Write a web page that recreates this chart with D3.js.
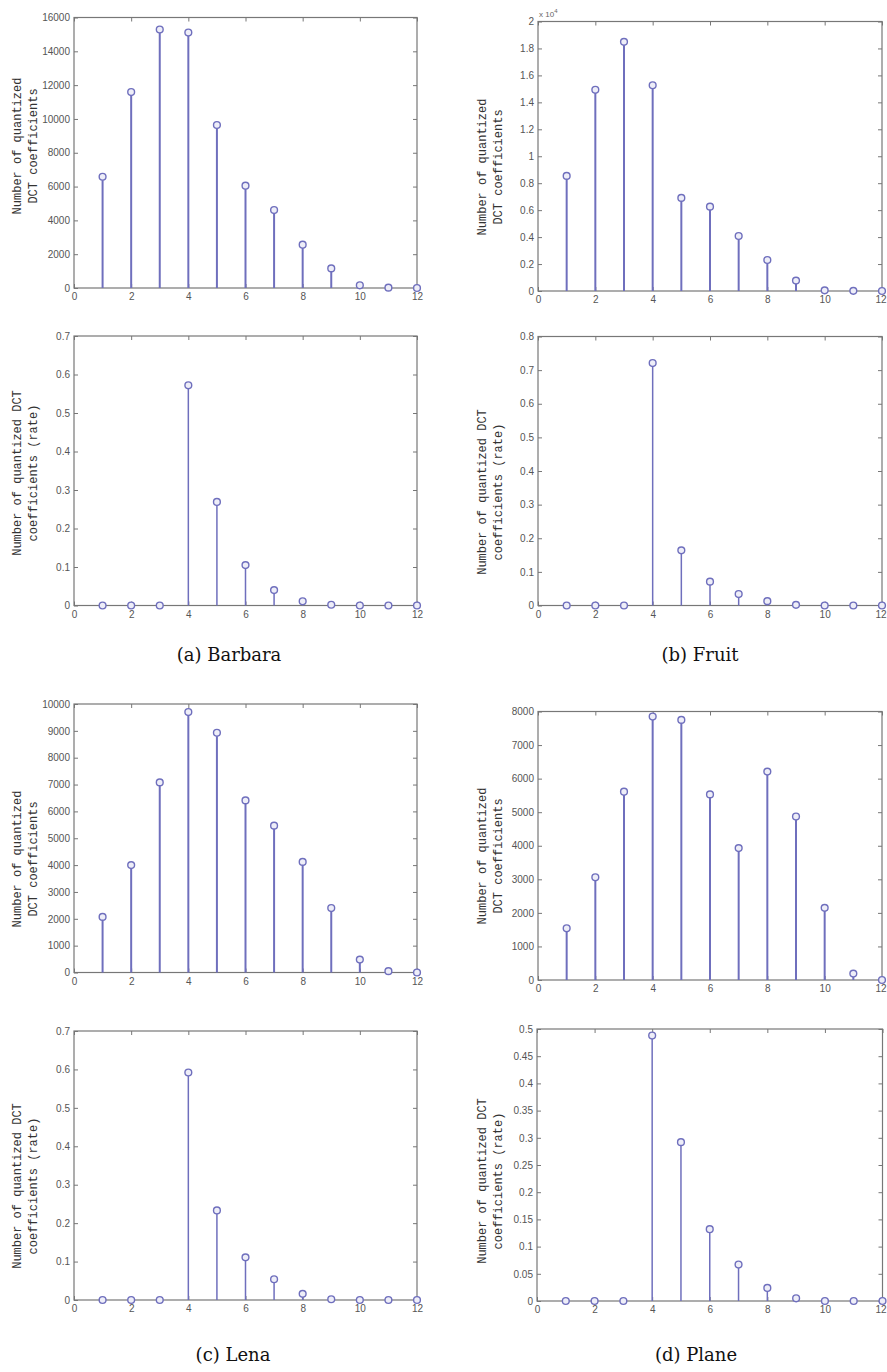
<!DOCTYPE html>
<meta charset="utf-8">
<script src="https://d3js.org/d3.v7.min.js"></script>
<style>
  body { margin: 0; background: #fff; }
  .tick text { font-family: "Liberation Sans", Arial, sans-serif; font-size: 10px; fill: #555; }
  .tick line { stroke: #777; }
</style>
<div id="my_dataviz"></div>
<script>

// quantization bins on the x axis
var bins = [1, 2, 3, 4, 5, 6, 7, 8, 9, 10, 11, 12];
var xTicks = [0, 2, 4, 6, 8, 10, 12];

// number of quantized DCT coefficients per bin
var barbaraCount = [6580, 11590, 15290, 15110, 9640, 6050, 4610, 2560, 1160, 160, 20, 0];
var fruitCount   = [8540, 14930, 18490, 15270, 6910, 6260, 4080, 2300, 770, 50, 10, 0];
var lenaCount    = [2070, 4000, 7080, 9700, 8930, 6410, 5470, 4120, 2400, 480, 50, 0];
var planeCount   = [1540, 3060, 5610, 7850, 7750, 5530, 3930, 6210, 4870, 2150, 190, 0];

// same thing as a rate
var barbaraRate = [0, 0, 0, 0.572, 0.269, 0.105, 0.040, 0.011, 0.002, 0, 0, 0];
var fruitRate   = [0, 0, 0, 0.721, 0.164, 0.071, 0.034, 0.013, 0.002, 0, 0, 0];
var lenaRate    = [0, 0, 0, 0.592, 0.233, 0.111, 0.054, 0.016, 0.002, 0, 0, 0];
var planeRate   = [0, 0, 0, 0.488, 0.292, 0.132, 0.067, 0.024, 0.005, 0, 0, 0];

// y tick labels
var barbaraCountTicks = [0, 2000, 4000, 6000, 8000, 10000, 12000, 14000, 16000];
var fruitCountTicks   = [0, 2000, 4000, 6000, 8000, 10000, 12000, 14000, 16000, 18000, 20000];
var lenaCountTicks    = [0, 1000, 2000, 3000, 4000, 5000, 6000, 7000, 8000, 9000, 10000];
var planeCountTicks   = [0, 1000, 2000, 3000, 4000, 5000, 6000, 7000, 8000];
var rateTicks07 = [0, 0.1, 0.2, 0.3, 0.4, 0.5, 0.6, 0.7];
var rateTicks08 = [0, 0.1, 0.2, 0.3, 0.4, 0.5, 0.6, 0.7, 0.8];
var rateTicks05 = [0, 0.05, 0.1, 0.15, 0.2, 0.25, 0.3, 0.35, 0.4, 0.45, 0.5];

var countLabel = ["Number of quantized", "DCT coefficients"];
var rateLabel  = ["Number of quantized DCT", "coefficients (rate)"];

var captions = ["(a) Barbara", "(b) Fruit", "(c) Lena", "(d) Plane"];

var stemColor = "#6f6fbd";

// panel layout (pixels)
var panels = [
  {l: 74,  r: 417, t: 17.5, b: 288,   vals: barbaraCount, ticks: barbaraCountTicks, lab: countLabel, lx: 21,  ly: 146,  sw: 2},
  {l: 538, r: 882, t: 21.5, b: 291,   vals: fruitCount,   ticks: fruitCountTicks,   lab: countLabel, lx: 486, ly: 167,  sw: 2, scale: 1e4},
  {l: 74,  r: 417, t: 336,  b: 605.5, vals: barbaraRate,  ticks: rateTicks07,       lab: rateLabel,  lx: 21,  ly: 473,  sw: 1.5},
  {l: 538, r: 882, t: 336.5,b: 605.5, vals: fruitRate,    ticks: rateTicks08,       lab: rateLabel,  lx: 486, ly: 492,  sw: 1.5},
  {l: 74,  r: 417, t: 704,  b: 972.5, vals: lenaCount,    ticks: lenaCountTicks,    lab: countLabel, lx: 21,  ly: 859,  sw: 2},
  {l: 538, r: 882, t: 711.5,b: 980,   vals: planeCount,   ticks: planeCountTicks,   lab: countLabel, lx: 486, ly: 856,  sw: 2},
  {l: 74,  r: 417, t: 1031, b: 1300,  vals: lenaRate,     ticks: rateTicks07,       lab: rateLabel,  lx: 21,  ly: 1186, sw: 1.5},
  {l: 537, r: 882.5, t: 1029, b: 1301, vals: planeRate,   ticks: rateTicks05,       lab: rateLabel,  lx: 486, ly: 1181, sw: 1.5}
];
var captionPos = [[229, 661], [700, 661], [233, 1361], [696, 1361]];

var svg = d3.select("#my_dataviz")
  .append("svg")
    .attr("width", 887)
    .attr("height", 1372);

function fmt(k) {
  return function(d) { return String(+(d / k).toFixed(4)); };
}

panels.forEach(function(p) {
  var k = p.scale || 1;
  var x = d3.scaleLinear().domain([0, 12]).range([p.l, p.r]);
  var y = d3.scaleLinear().domain([0, d3.max(p.ticks)]).range([p.b, p.t]);
  var g = svg.append("g");

  // MATLAB style box with inward ticks on all sides
  var xb = g.append("g").attr("transform", "translate(0," + p.b + ")")
    .call(d3.axisBottom(x).tickValues(xTicks).tickSize(-4).tickSizeOuter(0).tickPadding(5));
  g.append("g").attr("transform", "translate(0," + p.t + ")")
    .call(d3.axisTop(x).tickValues(xTicks).tickSize(-4).tickSizeOuter(0).tickFormat(""));
  g.append("g").attr("transform", "translate(" + p.l + ",0)")
    .call(d3.axisLeft(y).tickValues(p.ticks).tickSize(-4).tickSizeOuter(0).tickPadding(4).tickFormat(fmt(k)));
  g.append("g").attr("transform", "translate(" + p.r + ",0)")
    .call(d3.axisRight(y).tickValues(p.ticks).tickSize(-4).tickSizeOuter(0).tickFormat(""));
  g.selectAll(".domain").remove();

  // last x label sits at the page edge, keep it inside
  if (p.r > 880) {
    xb.selectAll(".tick text").filter(function(d) { return d === 12; })
      .attr("text-anchor", "end").attr("x", 886 - p.r);
  }

  g.append("rect")
    .attr("x", p.l).attr("y", p.t)
    .attr("width", p.r - p.l).attr("height", p.b - p.t)
    .attr("fill", "none").attr("stroke", "#777").attr("stroke-width", 1.2);

  if (k !== 1) {
    var m = g.append("text")
      .attr("x", p.l + 1).attr("y", p.t - 5)
      .style("font-family", "Liberation Sans, Arial, sans-serif")
      .style("font-size", "8px").style("fill", "#666");
    m.append("tspan").text("x 10");
    m.append("tspan").attr("dy", -4).style("font-size", "6px").text(String(Math.log10(k)));
  }

  // stems
  g.selectAll("line.stem")
    .data(p.vals)
    .enter().append("line")
      .attr("class", "stem")
      .attr("x1", function(d, i) { return x(bins[i]); })
      .attr("x2", function(d, i) { return x(bins[i]); })
      .attr("y1", y(0))
      .attr("y2", function(d) { return y(d); })
      .attr("stroke", stemColor)
      .attr("stroke-width", p.sw);

  g.selectAll("circle.mark")
    .data(p.vals)
    .enter().append("circle")
      .attr("class", "mark")
      .attr("cx", function(d, i) { return x(bins[i]); })
      .attr("cy", function(d) { return y(d); })
      .attr("r", 3.4)
      .attr("fill", "#eeeef8")
      .attr("stroke", stemColor)
      .attr("stroke-width", 1.4);

  // y label, two lines
  var lab = g.append("text")
    .attr("transform", "translate(" + p.lx + "," + p.ly + ") rotate(-90)")
    .attr("text-anchor", "middle")
    .style("font-family", "Liberation Mono, monospace")
    .style("font-size", "12px")
    .style("fill", "#333");
  lab.append("tspan").attr("x", 0).attr("y", 0).text(p.lab[0]);
  lab.append("tspan").attr("x", 0).attr("y", 16).text(p.lab[1]);
});

svg.selectAll("text.caption")
  .data(captions)
  .enter().append("text")
    .attr("class", "caption")
    .attr("x", function(d, i) { return captionPos[i][0]; })
    .attr("y", function(d, i) { return captionPos[i][1]; })
    .attr("text-anchor", "middle")
    .style("font-family", "DejaVu Serif, serif")
    .style("font-size", "18px")
    .style("fill", "#111")
    .text(function(d) { return d; });

</script>
